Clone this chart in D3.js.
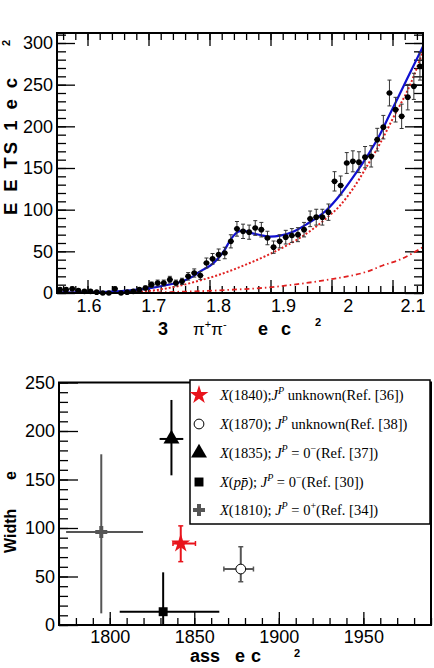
<!DOCTYPE html>
<html><head><meta charset="utf-8">
<script src="https://cdn.jsdelivr.net/npm/d3@7"></script>
<style>body{margin:0;background:#fff} svg{display:block}</style>
</head><body><svg id="c" width="434" height="668"></svg>
<script>
// ---------------- DATA: top panel (events per bin) ----------------
const binCenters = [1.555,1.565,1.575,1.585,1.595,1.605,1.615,1.625,1.635,1.645,
  1.655,1.665,1.675,1.685,1.695,1.705,1.715,1.725,1.735,1.745,
  1.755,1.765,1.775,1.785,1.795,1.805,1.815,1.825,1.835,1.845,
  1.855,1.865,1.875,1.885,1.895,1.905,1.915,1.925,1.935,1.945,
  1.955,1.965,1.975,1.985,1.995,2.005,2.015,2.025,2.035,2.045,
  2.055,2.065,2.075,2.085,2.095,2.105,2.115,2.125,2.135,2.145];
const counts = [4,4,5,3,2,2,1,0,0,5, 0,1,2,4,6,10,12,12,16,12,
  14,20,24,21,36,41,46,48,62,77, 74,73,78,76,66,55,62,67,69,70,
  76,89,91,91,97,134,129,156,158,157, 163,164,184,199,240,220,212,235,248,272];
const countErr = [2,2,2.2,1.7,1.4,1.4,1,1,1,2.2, 1,1,1.4,2,2.4,3.2,3.5,3.5,4,3.5,
  3.7,4.5,4.9,4.6,6,6.4,6.8,6.9,7.9,8.8, 8.6,8.5,8.8,8.7,8.1,7.4,7.9,8.2,8.3,8.4,
  8.7,9.4,9.5,9.5,9.8,11.6,11.4,12.5,12.6,12.5, 12.8,12.8,13.6,14.1,15.5,14.8,14.6,15.3,15.7,16.5];
const binHalfWidth = 0.005;

// total fit (blue), background (red dotted), second component (red dash-dot)
const fitX = [1.55,1.604,1.656,1.70,1.73,1.754,1.773,1.784,1.806,1.823,1.836,1.847,1.855,1.866,1.883,1.899,1.916,1.937,1.959,1.992,2.014,2.036,2.058,2.079,2.094,2.123,2.15];
const fitY = [0.5,0.8,2.4,5.6,9.6,13.6,20,25.6,35.6,49.6,65.6,73.6,74.8,72.4,69.6,67.6,68.8,73.6,82.4,99.6,117.6,139.6,163.6,189.6,212,255.6,296];
const bkgX = [1.55,1.62,1.67,1.70,1.75,1.784,1.812,1.839,1.866,1.894,1.916,1.948,1.992,2.014,2.036,2.058,2.08,2.101,2.129,2.15];
const bkgY = [0.3,0.5,1.2,2.5,8.5,15,21,28,36,45,53,66,90,105,126,152,180,210,250,290];
const compX = [1.55,1.70,1.75,1.784,1.839,1.894,1.948,2.003,2.058,2.084,2.112,2.15];
const compY = [0,0.5,1.5,2.2,4,6.5,11,17,25.6,33,40,55];

const topXTicks = [1.6,1.7,1.8,1.9,2.0,2.1];
const topXTickLabels = ["1.6","1.7","1.8","1.9","2","2.1"];
const topYTicks = [0,50,100,150,200,250,300];

// ---------------- DATA: bottom panel (mass vs width) ----------------
const states   = ["X(1840)","X(1870)","X(1835)","X(pp̄)","X(1810)"];
const mass     = [1842, 1877.5, 1836.5, 1831.6, 1795];
const massLo   = [4.6, 10, 7, 25.7, 20.8];
const massHi   = [8.7, 7.5, 7, 33.2, 24.7];
const widthV   = [84, 57.7, 191.8, 13.7, 96];
const widthLo  = [18.7, 13.1, 37.5, 13.7, 84];
const widthHi  = [18.2, 23, 40.2, 40.6, 80];
const markers  = ["star","circle","triangle","square","cross"];
const colors   = ["#e8141c","#555555","#000000","#000000","#555555"];
const legendLabels = [
  [["X","i"],["(1840);",""],["J","i"],["P","is"],[" unknown(Ref. [36])",""]],
  [["X","i"],["(1870); ",""],["J","i"],["P","is"],[" unknown(Ref. [38])",""]],
  [["X","i"],["(1835); ",""],["J","i"],["P","is"],[" = 0",""],["−","s"],["(Ref. [37])",""]],
  [["X","i"],["(",""],["pp̄","i"],["); ",""],["J","i"],["P","is"],[" = 0",""],["−","s"],["(Ref. [30])",""]],
  [["X","i"],["(1810); ",""],["J","i"],["P","is"],[" = 0",""],["+","s"],["(Ref. [34])",""]]
];
const botXTicks = [1800,1850,1900,1950];
const botYTicks = [0,50,100,150,200,250];

// ---------------- DRAW ----------------
const svg = d3.select("#c");
const FONT = "'Liberation Sans', Arial, Helvetica, sans-serif";

function styleAxis(g){
  g.select(".domain").remove();
  g.selectAll("line").attr("stroke","#000").attr("stroke-width",1.3);
  g.selectAll("text").attr("font-family",FONT).attr("font-size",18).attr("fill","#000");
}

// ===== TOP PANEL =====
const tx = d3.scaleLinear().domain([1.55,2.15]).range([57,423]);
const ty = d3.scaleLinear().domain([0,312]).range([293,33]);
const tLab = d3.scaleLinear().domain([1.6,2.1]).range([89,413]);

const gt = svg.append("g");
gt.append("defs").append("clipPath").attr("id","clipT")
  .append("rect").attr("x",57).attr("y",33).attr("width",366).attr("height",260);

// ticks
gt.append("g").attr("transform","translate(0,293)")
  .call(d3.axisBottom(tx).tickValues(topXTicks).tickSize(-13).tickFormat("")).call(styleAxis);
gt.append("g").attr("transform","translate(0,293)")
  .call(d3.axisBottom(tx).ticks(30).tickSize(-7).tickFormat("")).call(styleAxis);
gt.append("g").attr("transform","translate(0,33)")
  .call(d3.axisTop(tx).tickValues(topXTicks).tickSize(-13).tickFormat("")).call(styleAxis);
gt.append("g").attr("transform","translate(0,33)")
  .call(d3.axisTop(tx).ticks(30).tickSize(-7).tickFormat("")).call(styleAxis);
gt.append("g").attr("transform","translate(57,0)")
  .call(d3.axisLeft(ty).tickValues(topYTicks).tickSize(-18).tickPadding(4)).call(styleAxis);
gt.append("g").attr("transform","translate(57,0)")
  .call(d3.axisLeft(ty).ticks(30).tickSize(-9).tickFormat("")).call(styleAxis);
gt.append("g").attr("transform","translate(423,0)")
  .call(d3.axisRight(ty).tickValues(topYTicks).tickSize(-18).tickFormat("")).call(styleAxis);
gt.append("g").attr("transform","translate(423,0)")
  .call(d3.axisRight(ty).ticks(30).tickSize(-9).tickFormat("")).call(styleAxis);

// x tick labels
gt.append("g").selectAll("text").data(topXTicks).join("text")
  .attr("x",d=>tLab(d)).attr("y",312).attr("text-anchor","middle")
  .attr("font-family",FONT).attr("font-size",18).text((d,i)=>topXTickLabels[i]);

// curves
const pts = (xs,ys)=>xs.map((x,i)=>[x,ys[i]]);
const line = d3.line().x(d=>tx(d[0])).y(d=>ty(d[1])).curve(d3.curveMonotoneX);
const gc = gt.append("g").attr("clip-path","url(#clipT)");
gc.append("path").attr("d",line(pts(compX,compY))).attr("fill","none")
  .attr("stroke","#e02020").attr("stroke-width",1.8).attr("stroke-dasharray","5,3,1.5,3");
gc.append("path").attr("d",line(pts(bkgX,bkgY))).attr("fill","none")
  .attr("stroke","#e02020").attr("stroke-width",2).attr("stroke-dasharray","2,2");

// data points
const gd = gt.append("g");
binCenters.forEach((x,i)=>{
  const cx = tx(x), cy = ty(counts[i]);
  const e = countErr[i];
  gd.append("line").attr("x1",cx).attr("x2",cx).attr("y1",ty(counts[i]+e)).attr("y2",ty(Math.max(0,counts[i]-e)))
    .attr("stroke","#333").attr("stroke-width",1);
  [counts[i]+e, Math.max(0,counts[i]-e)].forEach(v=>{
    gd.append("line").attr("x1",cx-2).attr("x2",cx+2).attr("y1",ty(v)).attr("y2",ty(v))
      .attr("stroke","#333").attr("stroke-width",1);
  });
  gd.append("line").attr("x1",tx(x-binHalfWidth)).attr("x2",tx(x+binHalfWidth)).attr("y1",cy).attr("y2",cy)
    .attr("stroke","#000").attr("stroke-width",1.2);
  gd.append("circle").attr("cx",cx).attr("cy",cy).attr("r",2.8).attr("fill","#000");
});
gc.append("path").attr("d",line(pts(fitX,fitY))).attr("fill","none")
  .attr("stroke","#1010d0").attr("stroke-width",2.2);

// frame
gt.append("rect").attr("x",57).attr("y",33).attr("width",366).attr("height",260)
  .attr("fill","none").attr("stroke","#000").attr("stroke-width",2);

// titles
gt.append("text").attr("transform","translate(17,215) rotate(-90)")
  .attr("font-family",FONT).attr("font-size",18.5).attr("font-weight","bold")
  .attr("textLength",137).attr("lengthAdjust","spacing").text("E E TS 1 e c");
gt.append("text").attr("transform","translate(10,46) rotate(-90)")
  .attr("font-family",FONT).attr("font-size",11).attr("font-weight","bold").text("2");
const xt = gt.append("text").attr("y",335).attr("font-family",FONT).attr("font-size",18).attr("font-weight","bold");
xt.append("tspan").attr("x",158).text("3");
xt.append("tspan").attr("x",193).attr("font-weight","normal").attr("font-size",17).text("π");
xt.append("tspan").attr("font-weight","normal").attr("font-size",11).attr("dy",-7).text("+");
xt.append("tspan").attr("font-weight","normal").attr("font-size",17).attr("dy",7).text("π");
xt.append("tspan").attr("font-weight","normal").attr("font-size",11).attr("dy",-7).text("-");
xt.append("tspan").attr("x",258).attr("dy",7).text("e");
xt.append("tspan").attr("x",281).text("c");
gt.append("text").attr("x",315).attr("y",326).attr("font-family",FONT).attr("font-size",11)
  .attr("font-weight","bold").text("2");

// ===== BOTTOM PANEL =====
const bx = d3.scaleLinear().domain([1770,1990]).range([59,431]);
const by = d3.scaleLinear().domain([0,250]).range([625,382.5]);
const gb = svg.append("g");

gb.append("g").attr("transform","translate(0,625)")
  .call(d3.axisBottom(bx).tickValues(botXTicks).tickSize(-13).tickPadding(5).tickFormat(d3.format("d"))).call(styleAxis);
gb.append("g").attr("transform","translate(0,625)")
  .call(d3.axisBottom(bx).ticks(22).tickSize(-7).tickFormat("")).call(styleAxis);
gb.append("g").attr("transform","translate(59,0)")
  .call(d3.axisLeft(by).tickValues(botYTicks).tickSize(-19).tickPadding(4)).call(styleAxis);
gb.append("g").attr("transform","translate(59,0)")
  .call(d3.axisLeft(by).ticks(25).tickSize(-9).tickFormat("")).call(styleAxis);

gb.append("rect").attr("x",59).attr("y",382.5).attr("width",372).attr("height",242.5)
  .attr("fill","none").attr("stroke","#000").attr("stroke-width",2);

const symType = {star:d3.symbolStar, circle:d3.symbolCircle, triangle:d3.symbolTriangle, square:d3.symbolSquare, cross:d3.symbolCross};
const symSize = {star:110, circle:75, triangle:110, square:80, cross:80};
function drawMarker(g, type, x, y, color){
  const p = g.append("path").attr("transform",`translate(${x},${y})`)
    .attr("d", d3.symbol().type(symType[type]).size(symSize[type])());
  if(type==="circle") p.attr("fill","#fff").attr("stroke","#000").attr("stroke-width",1);
  else p.attr("fill",color);
}

states.forEach((s,i)=>{
  const c = colors[i];
  const cx = bx(mass[i]), cy = by(widthV[i]);
  const sw = 2;
  const x1 = bx(mass[i]-massLo[i]), x2 = bx(mass[i]+massHi[i]);
  const y1 = by(widthV[i]+widthHi[i]), y2 = by(Math.max(0,widthV[i]-widthLo[i]));
  gb.append("line").attr("x1",x1).attr("x2",x2).attr("y1",cy).attr("y2",cy).attr("stroke",c).attr("stroke-width",sw);
  gb.append("line").attr("x1",cx).attr("x2",cx).attr("y1",y1).attr("y2",y2).attr("stroke",c).attr("stroke-width",sw);
  if(markers[i]==="star"||markers[i]==="circle"){
    [x1,x2].forEach(xx=>gb.append("line").attr("x1",xx).attr("x2",xx).attr("y1",cy-2.5).attr("y2",cy+2.5).attr("stroke",c).attr("stroke-width",1.5));
    [y1,y2].forEach(yy=>gb.append("line").attr("y1",yy).attr("y2",yy).attr("x1",cx-2.5).attr("x2",cx+2.5).attr("stroke",c).attr("stroke-width",1.5));
  }
  drawMarker(gb, markers[i], cx, cy, c);
});

// legend
const lg = gb.append("g");
lg.append("rect").attr("x",190).attr("y",380).attr("width",240).attr("height",144)
  .attr("fill","#fff").attr("stroke","#000").attr("stroke-width",1.5);
const legY = [395,424,453,482,510];
legendLabels.forEach((parts,i)=>{
  drawMarker(lg, markers[i], 199, legY[i], colors[i]);
  const t = lg.append("text").attr("x",220).attr("y",legY[i]+5)
    .attr("font-family","'Liberation Serif','Times New Roman',serif").attr("font-size",14.5);
  let shifted = false;
  parts.forEach(([str,st])=>{
    const ts = t.append("tspan").text(str);
    const sup = st.includes("s");
    if(st.includes("i")) ts.attr("font-style","italic");
    if(sup && !shifted){ ts.attr("dy",-6).attr("font-size",10); shifted=true; }
    else if(sup){ ts.attr("font-size",10); }
    else if(!sup && shifted){ ts.attr("dy",6); shifted=false; }
  });
});

// bottom titles
gb.append("text").attr("transform","translate(16,553) rotate(-90)")
  .attr("font-family",FONT).attr("font-size",16).attr("font-weight","bold").text("Width");
gb.append("text").attr("transform","translate(16,480) rotate(-90)")
  .attr("font-family",FONT).attr("font-size",16).attr("font-weight","bold").text("e");
const bt = gb.append("text").attr("y",662).attr("font-family",FONT).attr("font-size",18).attr("font-weight","bold");
bt.append("tspan").attr("x",190).text("ass");
bt.append("tspan").attr("x",235).text("e");
bt.append("tspan").attr("x",251).text("c");
gb.append("text").attr("x",294).attr("y",657).attr("font-family",FONT).attr("font-size",11)
  .attr("font-weight","bold").text("2");
</script></body></html>
